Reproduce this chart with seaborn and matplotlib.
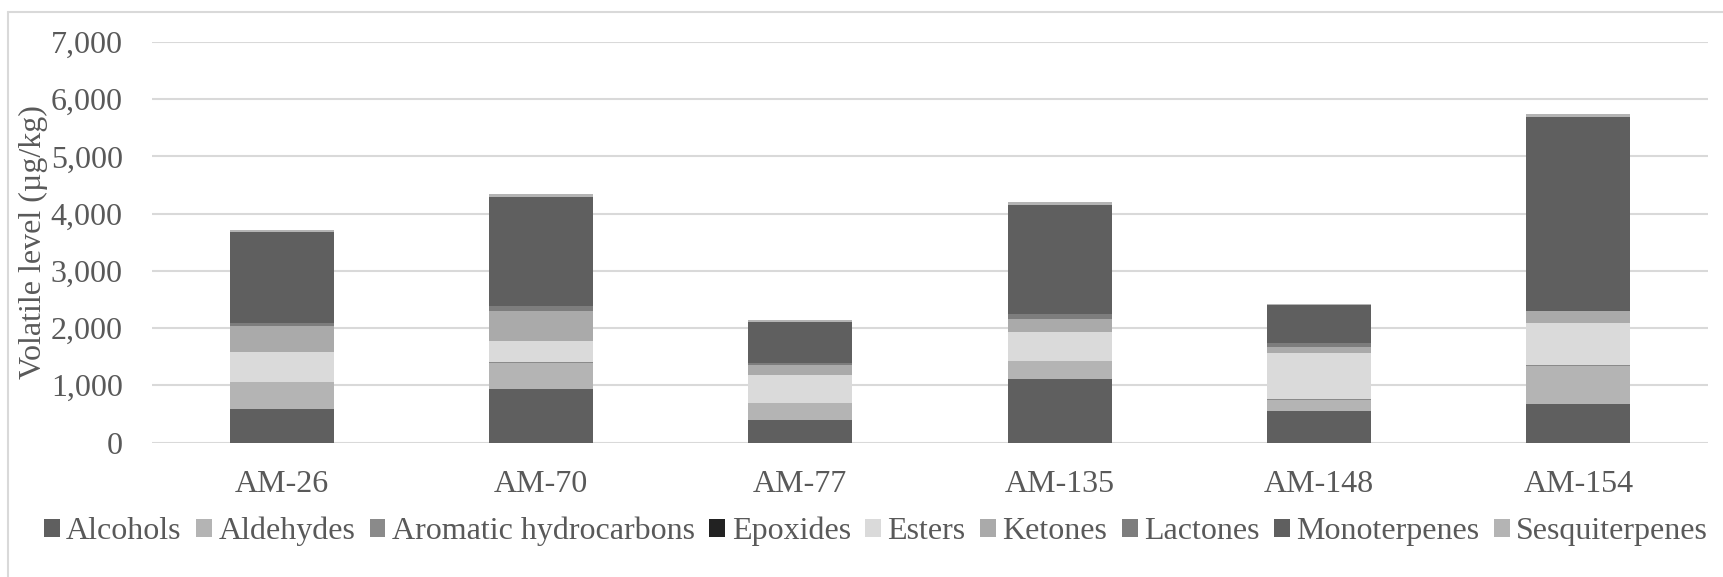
import numpy as np
import matplotlib
matplotlib.use("Agg")
import matplotlib.pyplot as plt
import seaborn as sns
from matplotlib.patches import Patch
from matplotlib.lines import Line2D
from matplotlib.ticker import FuncFormatter

# samples on the x axis
samples = ["AM-26", "AM-70", "AM-77", "AM-135", "AM-148", "AM-154"]

# volatile classes, stacked bottom -> top (µg/kg)
classes = ["Alcohols", "Aldehydes", "Aromatic hydrocarbons", "Epoxides", "Esters",
           "Ketones", "Lactones", "Monoterpenes", "Sesquiterpenes"]
alcohols = [594, 940, 385, 1105, 556, 668]
aldehydes = [455, 455, 304, 320, 190, 675]
aromatic = [8, 6, 5, 6, 18, 5]
epoxides = [0, 0, 0, 0, 0, 0]
esters = [523, 368, 490, 496, 798, 746]
ketones = [448, 531, 162, 232, 110, 200]
lactones = [60, 86, 40, 87, 70, 5]
monoterpenes = [1590, 1901, 712, 1911, 654, 3384]
sesquiterpenes = [30, 52, 35, 42, 28, 53]

colors = ["#5f5f5f", "#b4b4b4", "#8a8a8a", "#222222", "#dadada",
          "#aaaaaa", "#7d7d7d", "#5f5f5f", "#b4b4b4"]

series = [alcohols, aldehydes, aromatic, epoxides, esters,
          ketones, lactones, monoterpenes, sesquiterpenes]

sns.set_style("white")
plt.rcParams['font.family'] = ['Liberation Serif', 'DejaVu Serif']
text_col = "#595959"
grid_col = "#d9d9d9"

fig = plt.figure(figsize=(17.24, 5.77), dpi=100)
ax = fig.add_axes([152 / 1724, 1 - 442.5 / 577, (1708 - 152) / 1724, (442.5 - 42) / 577])

bottom = np.zeros(len(samples))
for name, vals, col in zip(classes, series, colors):
    sns.barplot(x=samples, y=vals, color=col, width=0.4, bottom=bottom,
                saturation=1, linewidth=0, ax=ax)
    bottom = bottom + np.array(vals)

ax.set_ylim(0, 7000)
ax.set_yticks(np.arange(0, 7001, 1000))
ax.yaxis.set_major_formatter(FuncFormatter(lambda v, p: f"{int(v):,}"))
ax.set_axisbelow(True)
ax.grid(axis="y", color=grid_col, linewidth=1.5)
ax.grid(axis="x", visible=False)
for s in ax.spines.values():
    s.set_visible(False)
ax.tick_params(axis="y", length=0, pad=21, labelsize=23, labelcolor=text_col)
ax.tick_params(axis="x", length=0, pad=20, labelsize=23, labelcolor=text_col)
ax.set_xlabel("")
ax.set_ylabel("")

fig.text(33 / 1724, 1 - 242 / 577, "Volatile level (µg/kg)", rotation=90,
         ha="center", va="center", fontsize=23, color=text_col)

handles = [Patch(facecolor=c, edgecolor="none", label=n) for n, c in zip(classes, colors)]
fig.legend(handles=handles, loc="center", ncol=9, frameon=False,
           bbox_to_anchor=(0.508, 0.079), bbox_transform=fig.transFigure,
           fontsize=23, labelcolor=text_col, handlelength=0.5, handleheight=0.5,
           handletextpad=0.2, columnspacing=0.45)

# outer chart frame (left and top edges visible)
fig.add_artist(Line2D([8 / 1724, 8 / 1724], [0, 1 - 12 / 577], transform=fig.transFigure,
                      color=grid_col, linewidth=1.5))
fig.add_artist(Line2D([8 / 1724, 1], [1 - 12 / 577, 1 - 12 / 577], transform=fig.transFigure,
                      color=grid_col, linewidth=1.5))

fig.savefig("out.png", dpi=100, facecolor="white")
